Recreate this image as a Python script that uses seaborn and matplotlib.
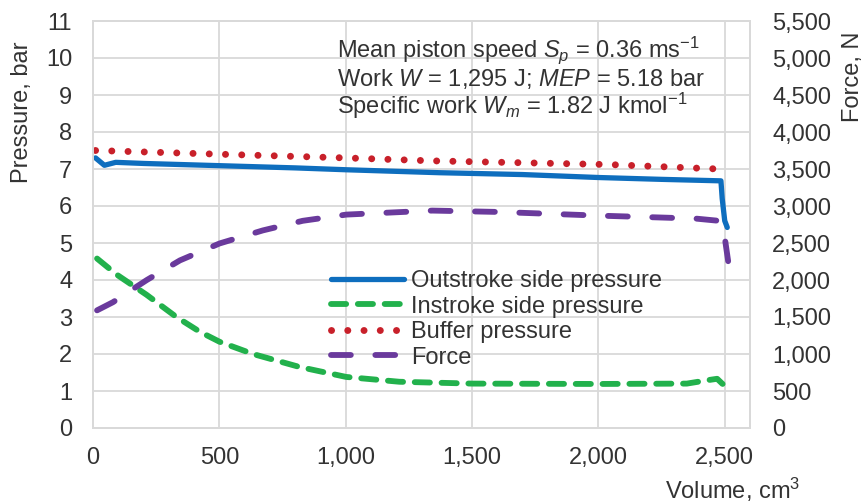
import numpy as np
import pandas as pd
import matplotlib
matplotlib.use("Agg")
import matplotlib.pyplot as plt
import seaborn as sns

# ---- data ----
out_vol = [10, 45, 90, 200, 500, 800, 1000, 1370, 1700, 2000, 2250, 2485, 2490, 2500, 2510]
out_p = [7.3, 7.1, 7.18, 7.15, 7.09, 7.03, 6.98, 6.9, 6.85, 6.77, 6.72, 6.68, 6.2, 5.6, 5.42]

in_vol = [16, 93, 212, 330, 423, 501, 633, 817, 1002, 1212, 1500, 2000, 2350, 2440, 2470, 2490, 2505]
in_p = [4.58, 4.15, 3.6, 3.0, 2.6, 2.33, 2.0, 1.65, 1.38, 1.25, 1.2, 1.19, 1.2, 1.3, 1.33, 1.2, 1.12]

buf_vol = [10, 500, 1000, 1343, 2042, 2476]
buf_p = [7.5, 7.4, 7.3, 7.22, 7.12, 7.0]

force_vol = [16, 79, 150, 213, 344, 501, 672, 830, 1003, 1173, 1343, 1600, 2002, 2385, 2476, 2496, 2516]
force_n = [1590, 1700, 1860, 2000, 2265, 2494, 2670, 2800, 2884, 2911, 2938, 2920, 2870, 2830, 2800, 2670, 2196]

x_ticks = [0, 500, 1000, 1500, 2000, 2500]
p_ticks = list(range(0, 12))
f_ticks = list(range(0, 5501, 500))

labels = ["Outstroke side pressure", "Instroke side pressure", "Buffer pressure", "Force"]
colors = ["#0E6EBE", "#22B14C", "#C8202A", "#6A3A9C"]

# ---- style ----
sns.set_theme(style="white")
plt.rcParams["font.family"] = ["Liberation Sans", "DejaVu Sans"]
plt.rcParams["mathtext.fontset"] = "custom"
plt.rcParams["mathtext.rm"] = "Liberation Sans"
plt.rcParams["mathtext.it"] = "Liberation Sans:italic"
plt.rcParams["text.color"] = "#333333"
plt.rcParams["axes.labelcolor"] = "#333333"
plt.rcParams["xtick.color"] = "#333333"
plt.rcParams["ytick.color"] = "#333333"

FS = 17
W, H = 865, 504
fig = plt.figure(figsize=(W / 100, H / 100), dpi=100)
ax = fig.add_axes([93 / W, 1 - 428 / H, (750 - 93) / W, (428 - 21) / H])
ax2 = ax.twinx()

grid_c = "#D9D9D9"

df_out = pd.DataFrame({"v": out_vol, "p": out_p})
df_in = pd.DataFrame({"v": in_vol, "p": in_p})
df_buf = pd.DataFrame({"v": buf_vol, "p": buf_p})
df_f = pd.DataFrame({"v": force_vol, "f": force_n})

sns.lineplot(data=df_out, x="v", y="p", ax=ax, color=colors[0], lw=3.8,
             solid_capstyle="round", legend=False, sort=False)
sns.lineplot(data=df_in, x="v", y="p", ax=ax, color=colors[1], lw=4.2,
             linestyle=(0, (2.6, 2.0)), dash_capstyle="round", legend=False, sort=False)
sns.lineplot(data=df_buf, x="v", y="p", ax=ax, color=colors[2], lw=5.0,
             linestyle=(0, (0.01, 2.33)), dash_capstyle="round", legend=False, sort=False)
sns.lineplot(data=df_f, x="v", y="f", ax=ax2, color=colors[3], lw=4.2,
             linestyle=(0, (3.4, 4.2)), dash_capstyle="round", legend=False, sort=False)

ax.set_xlim(0, 2600)
ax.set_ylim(0, 11)
ax2.set_ylim(0, 5500)
ax.set_xticks(x_ticks)
ax.set_xticklabels([f"{t:,}" for t in x_ticks])
ax.set_yticks(p_ticks)
ax.set_yticklabels([str(t) for t in p_ticks])
ax2.set_yticks(f_ticks)
ax2.set_yticklabels([f"{t:,}" for t in f_ticks])

ax.grid(True, color=grid_c, lw=1.3)
ax.set_axisbelow(True)
ax2.grid(False)
for a in (ax, ax2):
    for s in a.spines.values():
        s.set_color(grid_c)
        s.set_linewidth(1.3)
ax.set_xlabel("")
ax.set_ylabel("")
ax2.set_ylabel("")
ax.tick_params(axis="y", length=0, pad=15, labelsize=FS)
ax.tick_params(axis="x", length=0, pad=14, labelsize=FS)
ax2.tick_params(axis="y", length=0, pad=16, labelsize=FS)

fig.text(22 / W, 1 - 112 / H, "Pressure, bar", rotation=90, ha="center", va="center", fontsize=FS)
fig.text(853 / W, 1 - 77 / H, "Force, N", rotation=90, ha="center", va="center", fontsize=FS)
fig.text(800 / W, 1 - 490 / H, "Volume, cm$^3$", ha="right", va="center", fontsize=FS)

ann = [
    "Mean piston speed $S_p$ = 0.36 ms$^{-1}$",
    "Work $W$ = 1,295 J; $MEP$ = 5.18 bar",
    "Specific work $W_m$ = 1.82 J kmol$^{-1}$",
]
for txt, yb in zip(ann, [57, 86, 114]):
    fig.text(337 / W, 1 - yb / H, txt, ha="left", va="baseline", fontsize=FS)

handles = ax.lines + ax2.lines
leg = fig.legend(handles, labels, loc="upper left", bbox_to_anchor=(331 / W, 1 - 270 / H),
                 frameon=False, fontsize=FS, handlelength=3.1, handletextpad=0.3,
                 labelspacing=0.15, borderpad=0, borderaxespad=0)

fig.savefig("out.png", dpi=100)
